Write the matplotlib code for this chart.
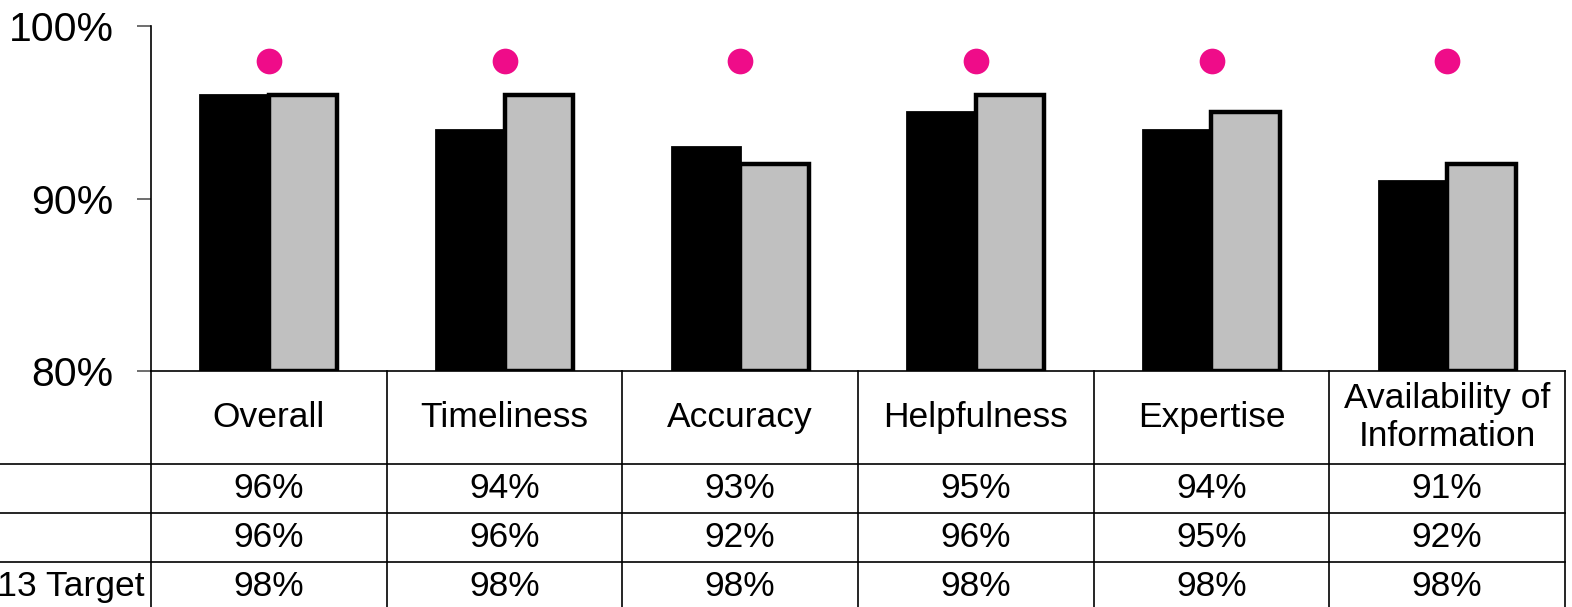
import matplotlib
matplotlib.use("Agg")
import matplotlib.pyplot as plt
from matplotlib.lines import Line2D
from matplotlib.transforms import blended_transform_factory
import numpy as np

plt.rcParams['font.family'] = ['Liberation Sans', 'DejaVu Sans']

categories = ["Overall", "Timeliness", "Accuracy", "Helpfulness", "Expertise",
              "Availability of\nInformation"]
series_a = [96, 94, 93, 95, 94, 91]
series_b = [96, 96, 92, 96, 95, 92]
target = [98, 98, 98, 98, 98, 98]
row_labels = ["", "", "FY13 Target"]
yticks = [80, 90, 100]
ytick_labels = ["80%", "90%", "100%"]

W, H = 1572, 607
fig = plt.figure(figsize=(W / 100, H / 100), dpi=100)
ax_left, ax_right, ax_top, ax_bot = 151, 1565, 26, 371
ax = fig.add_axes([ax_left / W, 1 - ax_bot / H, (ax_right - ax_left) / W, (ax_bot - ax_top) / H])

n = len(categories)
x = np.arange(n)
bw = 0.29
ax.bar(x - bw / 2, [v - 80 for v in series_a], bottom=80, width=bw, color="black",
       edgecolor="black", linewidth=2, zorder=3)
ax.bar(x + bw / 2, [v - 80 for v in series_b], bottom=80, width=bw, color="#C0C0C0",
       edgecolor="black", linewidth=3.2, zorder=3)
ax.plot(x, target, linestyle="none", marker="o", markersize=18.5, color="#EF0C89",
        markeredgewidth=0, zorder=4)

ax.set_xlim(-0.5, n - 0.5)
ax.set_ylim(80, 100)
ax.set_yticks(yticks)
ax.set_yticklabels(ytick_labels, fontsize=29.5)
ax.tick_params(axis="y", length=10, width=1.2, pad=17, color="#555555", labelcolor="black")
ax.set_xticks([])
for s in ["top", "right"]:
    ax.spines[s].set_visible(False)
ax.spines["left"].set_linewidth(1.2)
ax.spines["bottom"].set_linewidth(1.2)

# Data table
def fy(px):
    return 1 - px / H

hlines_px = [464, 513, 562]
tf = fig.transFigure
for yp in hlines_px:
    fig.add_artist(Line2D([0, ax_right / W], [fy(yp), fy(yp)], color="black", lw=1.2, transform=tf))
bt = blended_transform_factory(ax.transData, tf)
for b in np.arange(-0.5, n, 1.0):
    ax.add_artist(Line2D([b, b], [fy(371), fy(H + 5)], color="black", lw=1.2,
                         transform=bt, clip_on=False))

fs = 25.5
header_c = (371 + 464) / 2
row_c = [(464 + 513) / 2, (513 + 562) / 2, (562 + 611) / 2]
for i, c in enumerate(categories):
    ax.text(i, fy(header_c), c, transform=bt, ha="center", va="center", fontsize=fs,
            linespacing=1.2)
rows = [series_a, series_b, target]
for r, vals in enumerate(rows):
    for i, v in enumerate(vals):
        ax.text(i, fy(row_c[r]), f"{v}%", transform=bt, ha="center", va="center", fontsize=fs)
    if row_labels[r]:
        fig.text(145 / W, fy(row_c[r]), row_labels[r], ha="right", va="center", fontsize=fs)

fig.savefig("out.png", dpi=100)
